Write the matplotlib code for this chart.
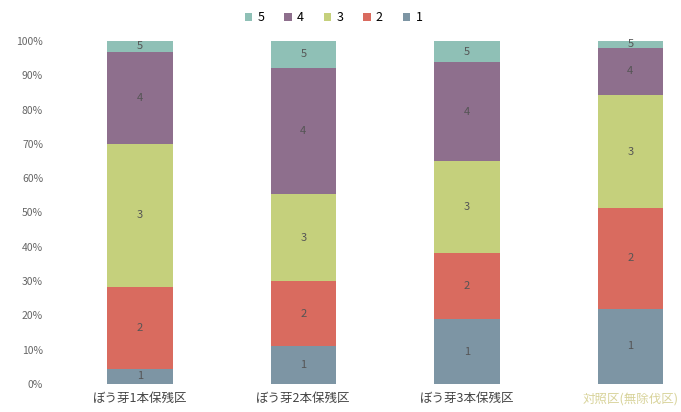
import numpy as np
import matplotlib
matplotlib.use('Agg')
import matplotlib.pyplot as plt
from matplotlib.ticker import PercentFormatter

plt.rcParams['font.family'] = ['Noto Sans CJK JP', 'DejaVu Sans']

# categories and stacked shares (%)
categories = ['ぼう芽1本保残区', 'ぼう芽2本保残区', 'ぼう芽3本保残区', '対照区(無除伐区)']
s1 = [4.4, 11.0, 18.9, 21.9]
s2 = [24.0, 18.9, 19.3, 29.4]
s3 = [41.5, 25.6, 26.7, 32.9]
s4 = [27.0, 36.7, 28.9, 13.9]
s5 = [3.1, 7.8, 6.2, 1.9]
series_names = ['1', '2', '3', '4', '5']
colors = ['#7d95a4', '#d96b5f', '#c5d07c', '#8e6f8d', '#8fc0b6']

data = np.array([s1, s2, s3, s4, s5])
data = data / data.sum(axis=0)

fig = plt.figure(figsize=(6.81, 4.12), dpi=100)
ax = fig.add_axes([50/681, 1 - 384/412, 631/681, 343/412])

x = np.arange(len(categories))
bottom = np.zeros(len(categories))
handles = []
for i, name in enumerate(series_names):
    b = ax.bar(x, data[i], width=0.4, bottom=bottom, color=colors[i], label=name)
    handles.append(b)
    for xi, v, bt in zip(x, data[i], bottom):
        ax.text(xi, bt + v/2, name, ha='center', va='center', fontsize=8, color='#555555')
    bottom += data[i]

ax.set_xlim(-0.55, 3.31)
ax.set_ylim(0, 1)
ax.set_yticks(np.arange(0, 1.01, 0.1))
ax.yaxis.set_major_formatter(PercentFormatter(1.0, decimals=0))
ax.tick_params(axis='y', length=0, labelsize=7.5, labelcolor='#666666', pad=5)
ax.tick_params(axis='x', length=0, labelsize=9, labelcolor='#444444', pad=6)
ax.set_xticks(x)
ax.set_xticklabels(categories)
ax.get_xticklabels()[3].set_color('#d8d39a')
for s in ax.spines.values():
    s.set_visible(False)

leg = fig.legend(handles[::-1], series_names[::-1], loc='upper center', ncol=5,
                 bbox_to_anchor=(0.49, 1.0), frameon=False, fontsize=9,
                 handlelength=0.6, handleheight=0.6, columnspacing=1.6, handletextpad=0.4)

fig.savefig('out.png', dpi=100)
